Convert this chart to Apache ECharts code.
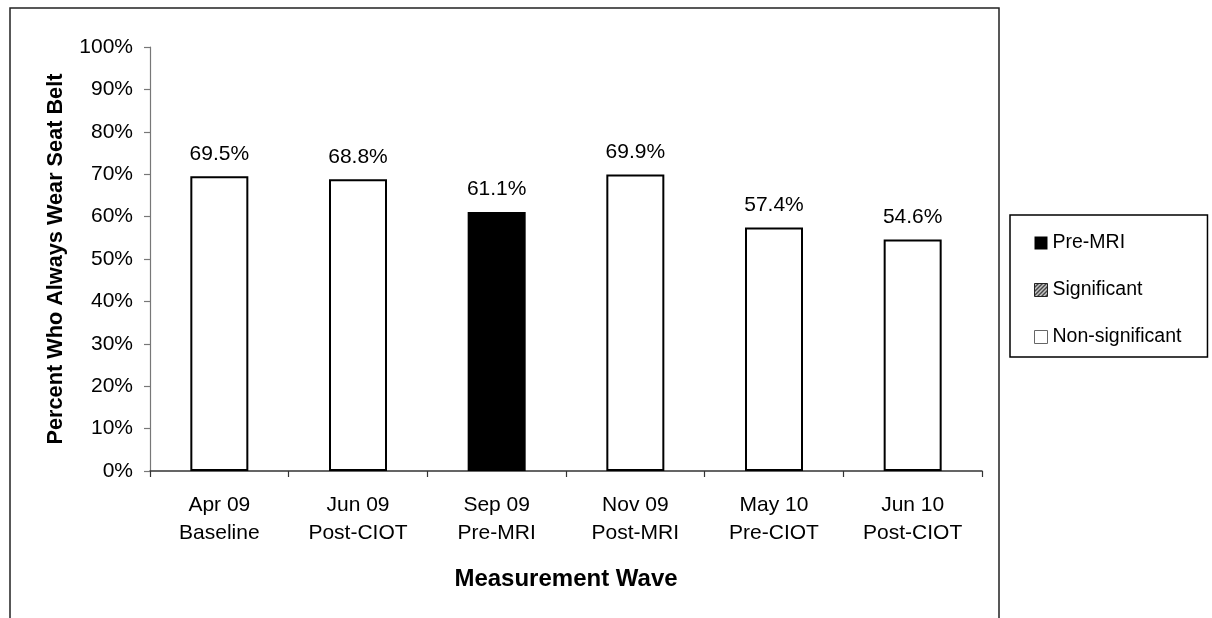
<!DOCTYPE html>
<html>
<head>
<meta charset="utf-8">
<script src="https://cdn.jsdelivr.net/npm/echarts@6/dist/echarts.min.js"></script>
<style>
  html, body { margin: 0; padding: 0; background: #fff; }
  #chart { width: 1212px; height: 618px; }
</style>
</head>
<body>
<div id="chart"></div>
<script>
// 测量波次
const categories = [
  "Apr 09\nBaseline",
  "Jun 09\nPost-CIOT",
  "Sep 09\nPre-MRI",
  "Nov 09\nPost-MRI",
  "May 10\nPre-CIOT",
  "Jun 10\nPost-CIOT",
];
// 三组数据，按图例分类
const preMriValues = [null, null, 61.1, null, null, null];
const significantValues = [null, null, null, null, null, null];
const nonSignificantValues = [69.5, 68.8, null, 69.9, 57.4, 54.6];
const yTicks = [0, 10, 20, 30, 40, 50, 60, 70, 80, 90, 100];

const font = "'Liberation Sans', Arial, sans-serif";

// 斜线填充图案
function hatchPattern() {
  const c = document.createElement("canvas");
  c.width = 4;
  c.height = 4;
  const ctx = c.getContext("2d");
  ctx.fillStyle = "#fff";
  ctx.fillRect(0, 0, 4, 4);
  ctx.strokeStyle = "#000";
  ctx.lineWidth = 1.3;
  ctx.beginPath();
  ctx.moveTo(0, 4);
  ctx.lineTo(4, 0);
  ctx.moveTo(-1, 1);
  ctx.lineTo(1, -1);
  ctx.moveTo(3, 5);
  ctx.lineTo(5, 3);
  ctx.stroke();
  return { image: c, repeat: "repeat" };
}

const chart = echarts.init(document.getElementById("chart"));

const label = {
  show: true,
  position: "top",
  distance: 12,
  color: "#000",
  fontSize: 21,
  fontFamily: font,
  formatter: (p) => p.value.toFixed(1) + "%",
};

chart.setOption({
  animation: false,
  textStyle: { fontFamily: font },
  graphic: [
    {
      type: "rect",
      shape: { x: 10, y: 8, width: 989, height: 700 },
      style: { fill: null, stroke: "#222", lineWidth: 1.5 },
      silent: true,
    },
  ],
  grid: { left: 150, right: 230, top: 47, bottom: 147 },
  legend: {
    orient: "vertical",
    left: 1010,
    top: 215,
    padding: [18, 26, 10, 24],
    itemGap: 27,
    itemWidth: 13,
    itemHeight: 13,
    icon: "rect",
    borderColor: "#000",
    borderWidth: 1.5,
    textStyle: { fontSize: 19.5, color: "#000", fontFamily: font, padding: [0, 0, 0, 0] },
    data: [
      { name: "Pre-MRI", itemStyle: { borderColor: "#000", borderWidth: 0 } },
      { name: "Significant", itemStyle: { borderColor: "#222", borderWidth: 1 } },
      { name: "Non-significant", itemStyle: { borderColor: "#666", borderWidth: 1 } },
    ],
  },
  xAxis: {
    type: "category",
    data: categories,
    boundaryGap: true,
    name: "Measurement Wave",
    nameLocation: "middle",
    nameGap: 96,
    nameTextStyle: { fontSize: 24, fontWeight: "bold", color: "#000", fontFamily: font },
    axisLine: { lineStyle: { color: "#333", width: 1.5 } },
    axisTick: { show: true, length: 6, lineStyle: { color: "#333", width: 1.2 } },
    axisLabel: {
      interval: 0,
      margin: 20,
      fontSize: 21,
      lineHeight: 28,
      color: "#000",
      fontFamily: font,
    },
  },
  yAxis: {
    type: "value",
    min: yTicks[0],
    max: yTicks[yTicks.length - 1],
    interval: 10,
    name: "Percent Who Always Wear Seat Belt",
    nameLocation: "middle",
    nameRotate: 90,
    nameGap: 83,
    nameTextStyle: { fontSize: 21.7, fontWeight: "bold", color: "#000", fontFamily: font },
    splitLine: { show: false },
    axisLine: { show: true, lineStyle: { color: "#777", width: 1.2 } },
    axisTick: { show: true, length: 6, lineStyle: { color: "#777", width: 1.2 } },
    axisLabel: {
      margin: 17,
      fontSize: 21,
      color: "#000",
      fontFamily: font,
      formatter: "{value}%",
    },
  },
  series: [
    {
      name: "Pre-MRI",
      type: "bar",
      stack: "wave",
      barWidth: 58,
      data: preMriValues,
      itemStyle: { color: "#000", borderColor: "#000", borderWidth: 2 },
      label: label,
    },
    {
      name: "Significant",
      type: "bar",
      stack: "wave",
      barWidth: 58,
      data: significantValues,
      itemStyle: { color: hatchPattern(), borderColor: "#000", borderWidth: 1 },
      label: label,
    },
    {
      name: "Non-significant",
      type: "bar",
      stack: "wave",
      barWidth: 58,
      data: nonSignificantValues,
      itemStyle: { color: "#fff", borderColor: "#000", borderWidth: 2 },
      label: label,
    },
  ],
});
</script>
</body>
</html>
